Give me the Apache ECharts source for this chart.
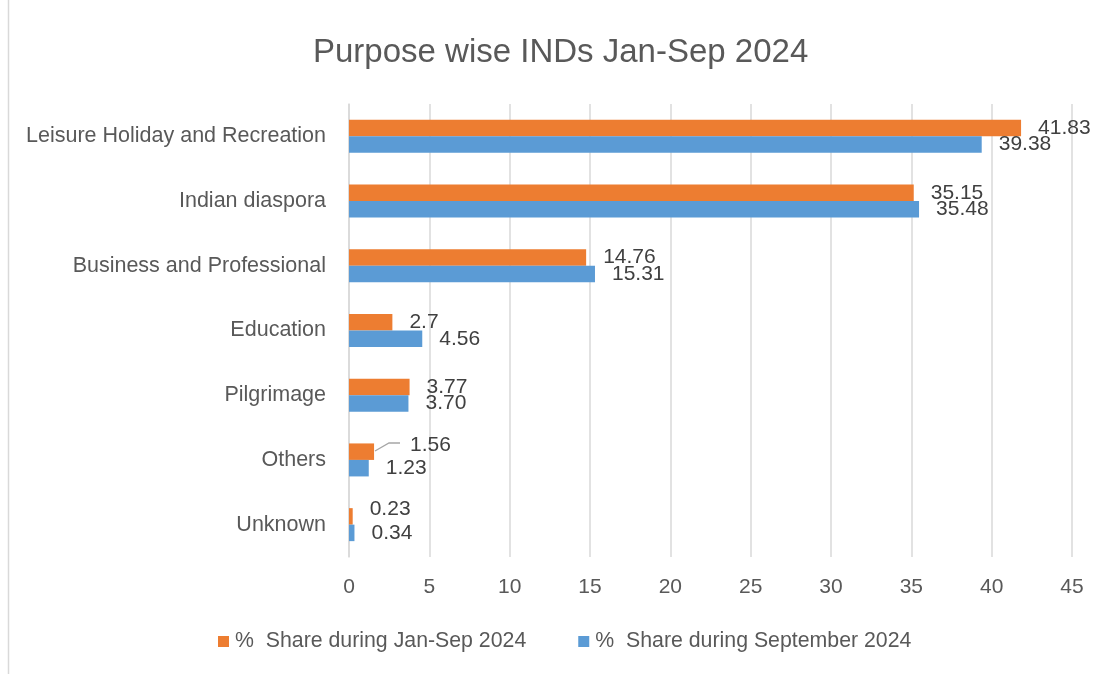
<!DOCTYPE html>
<html>
<head>
<meta charset="utf-8">
<script src="https://cdn.jsdelivr.net/npm/echarts@6/dist/echarts.min.js"></script>
<style>html,body{margin:0;padding:0;background:#fff}#c{width:1103px;height:674px}</style>
</head>
<body>
<div id="c"></div>
<script>
const categories = ['Leisure Holiday and Recreation', 'Indian diaspora', 'Business and Professional', 'Education', 'Pilgrimage', 'Others', 'Unknown'];
const seriesNames = ['%  Share during Jan-Sep 2024', '%  Share during September 2024'];
const janSepValues = [41.83, 35.15, 14.76, 2.7, 3.77, 1.56, 0.23];
const janSepLabels = ['41.83', '35.15', '14.76', '2.7', '3.77', '1.56', '0.23'];
const septValues = [39.38, 35.48, 15.31, 4.56, 3.70, 1.23, 0.34];
const septLabels = ['39.38', '35.48', '15.31', '4.56', '3.70', '1.23', '0.34'];
const xTicks = [0, 5, 10, 15, 20, 25, 30, 35, 40, 45];

// label nudges (style only)
const janSepDx = [0, 0, 0, 0, 0, 19, 0];
const janSepDy = [0, 0, 0, 0, 0, -6, -7];
const septDx = [0, 0, 0, 0, 0, 0, 0];
const septDy = [0, 0, 0, 0, 0, 0, 0];

const FONT = 'Liberation Sans';
const chart = echarts.init(document.getElementById('c'));

function mkData(vals, labels, dx, dy) {
  return vals.map((v, i) => ({ value: v, label: { formatter: labels[i], offset: [dx[i], dy[i]] } }));
}

chart.setOption({
  animation: false,
  title: {
    text: 'Purpose wise INDs Jan-Sep 2024',
    left: 308, top: 31,
    textStyle: { fontFamily: FONT, fontSize: 33, fontWeight: 'normal', color: '#595959' }
  },
  legend: {
    bottom: 17, left: 213,
    itemWidth: 11, itemHeight: 11, itemGap: 52,
    icon: 'rect',
    textStyle: { fontFamily: FONT, fontSize: 21.3, color: '#595959', padding: [0, 0, 0, 1] },
    data: seriesNames
  },
  grid: { left: 349, right: 31, top: 104, bottom: 117, containLabel: false },
  xAxis: {
    type: 'value', min: 0, max: 45, interval: 5,
    axisLine: { show: false }, axisTick: { show: false },
    splitLine: { lineStyle: { color: '#d9d9d9', width: 1.5 } },
    axisLabel: { fontFamily: FONT, fontSize: 21, color: '#595959', margin: 20,
      formatter: v => xTicks.includes(v) ? String(v) : '' }
  },
  yAxis: {
    type: 'category', inverse: true, data: categories,
    axisLine: { show: true, lineStyle: { color: '#d9d9d9', width: 1.5 } },
    axisTick: { show: false },
    axisLabel: { fontFamily: FONT, fontSize: 21.5, color: '#595959', margin: 23 }
  },
  series: [
    {
      name: seriesNames[0], type: 'bar', barWidth: 16.5, barGap: '0%',
      itemStyle: { color: '#ed7d31' },
      label: { show: true, position: 'right', distance: 17, fontFamily: FONT, fontSize: 21, color: '#404040' },
      data: mkData(janSepValues, janSepLabels, janSepDx, janSepDy)
    },
    {
      name: seriesNames[1], type: 'bar', barWidth: 16.5, barGap: '0%',
      itemStyle: { color: '#5b9bd5' },
      label: { show: true, position: 'right', distance: 17, fontFamily: FONT, fontSize: 21, color: '#404040' },
      data: mkData(septValues, septLabels, septDx, septDy)
    }
  ],
  graphic: [
    { type: 'line', shape: { x1: 8.5, y1: 0, x2: 8.5, y2: 674 }, style: { stroke: '#d9d9d9', lineWidth: 1.5 } },
    { type: 'polyline', shape: { points: [[375, 451], [389, 443], [400, 443]] }, style: { stroke: '#a6a6a6', lineWidth: 1.3, fill: null } }
  ]
});
</script>
</body>
</html>
